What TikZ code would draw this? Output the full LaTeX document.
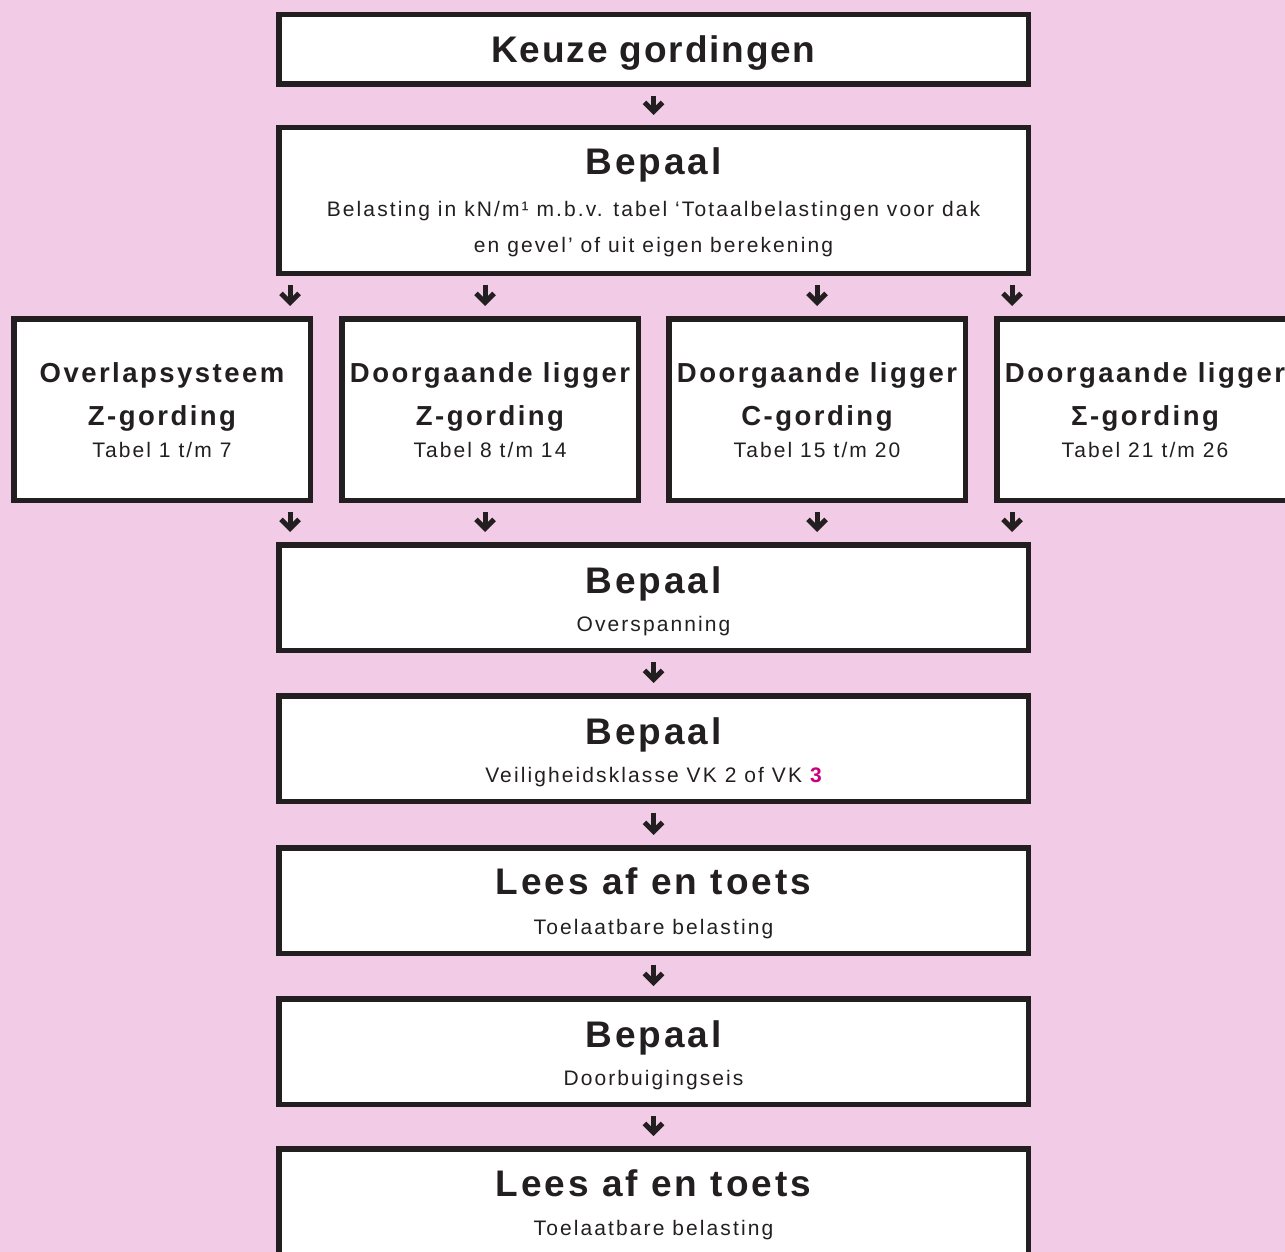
\documentclass[tikz,border=0pt]{standalone}
\usepackage{fontspec}
\setmainfont{Liberation Sans}
\newfontfamily\titelfont[LetterSpace=5]{Liberation Sans}
\newfontfamily\kopfont[LetterSpace=8]{Liberation Sans}
\newfontfamily\subkopfont[LetterSpace=9]{Liberation Sans}
\newfontfamily\tekstfont[LetterSpace=10]{Liberation Sans}
\usetikzlibrary{arrows.meta}
\definecolor{roze}{HTML}{F2CCE6}
\definecolor{inkt}{HTML}{231F20}
\definecolor{magenta3}{HTML}{C8007F}
\tikzset{
  box/.style={draw=inkt, line width=5.5pt, fill=white, inner sep=0pt},
  breed/.style={box, minimum width=749.5pt, minimum height=105.5pt},
  kolom/.style={box, minimum width=296.5pt, minimum height=181.5pt},
  titel/.style={anchor=base, text=inkt, inner sep=0pt, font=\titelfont\bfseries\fontsize{37}{40}\selectfont},
  kop/.style={anchor=base, text=inkt, inner sep=0pt, font=\kopfont\bfseries\fontsize{37}{40}\selectfont},
  subkop/.style={anchor=base, text=inkt, inner sep=0pt, font=\subkopfont\bfseries\fontsize{27.5}{30}\selectfont},
  tekst/.style={anchor=base, text=inkt, inner sep=0pt, font=\tekstfont\fontsize{21}{23}\selectfont},
  pijl/.style={draw=inkt, line width=5pt, -{Straight Barb[length=9pt,width=18pt]}, shorten <=9pt, shorten >=10pt}
}
\begin{document}
\begin{tikzpicture}[x=1pt,y=1pt]
\useasboundingbox (0,0) rectangle (1285,-1252);
\clip (0,0) rectangle (1285,-1252);
\fill[roze] (0,0) rectangle (1285,-1252);
% vakken
\node[box, minimum width=749.5pt, minimum height=69.5pt] (keuze) at (653.5,-49.5) {};
\node[box, minimum width=749.5pt, minimum height=145.5pt] (belasting) at (653.5,-200.5) {};
\node[kolom] (overlap) at (162,-409.5) {};
\node[kolom] (doorZ) at (490,-409.5) {};
\node[kolom] (doorC) at (817,-409.5) {};
\node[kolom] (doorS) at (1145,-409.5) {};
\node[breed] (overspanning) at (653.5,-597.5) {};
\node[breed] (klasse) at (653.5,-748.5) {};
\node[breed] (toets1) at (653.5,-900.5) {};
\node[breed] (doorbuiging) at (653.5,-1051.5) {};
\node[breed] (toets2) at (653.5,-1201.5) {};
% teksten
\node[titel] (t-keuze) at (653.5,-63) {Keuze gordingen};
\node[kop] (t-bepaal1) at (653.5,-175) {Bepaal};
\node[tekst] (t-bel1) at (653.5,-217) {Belasting in kN/m¹ m.b.v. tabel ‘Totaalbelastingen voor dak};
\node[tekst] (t-bel2) at (653.5,-252) {en gevel’ of uit eigen berekening};
\node[subkop] (t-ov1) at (162,-382) {Overlapsysteem};
\node[subkop] (t-ov2) at (162,-425) {Z-gording};
\node[tekst] (t-ov3) at (162,-457) {Tabel 1 t/m 7};
\node[subkop] (t-dz1) at (490,-382) {Doorgaande ligger};
\node[subkop] (t-dz2) at (490,-425) {Z-gording};
\node[tekst] (t-dz3) at (490,-457) {Tabel 8 t/m 14};
\node[subkop] (t-dc1) at (817,-382) {Doorgaande ligger};
\node[subkop] (t-dc2) at (817,-425) {C-gording};
\node[tekst] (t-dc3) at (817,-457) {Tabel 15 t/m 20};
\node[subkop] (t-ds1) at (1145,-382) {Doorgaande ligger};
\node[subkop] (t-ds2) at (1145,-425) {Σ-gording};
\node[tekst] (t-ds3) at (1145,-457) {Tabel 21 t/m 26};
\node[kop] (t-bepaal2) at (653.5,-593) {Bepaal};
\node[tekst] (t-span) at (653.5,-631) {Overspanning};
\node[kop] (t-bepaal3) at (653.5,-744) {Bepaal};
\node[tekst] (t-vk) at (653.5,-782) {Veiligheidsklasse VK 2 of VK {\bfseries\color{magenta3}3}};
\node[kop] (t-lees1) at (653.5,-894) {Lees af en toets};
\node[tekst] (t-toel1) at (653.5,-934) {Toelaatbare belasting};
\node[kop] (t-bepaal4) at (653.5,-1047) {Bepaal};
\node[tekst] (t-doorb) at (653.5,-1085) {Doorbuigingseis};
\node[kop] (t-lees2) at (653.5,-1196) {Lees af en toets};
\node[tekst] (t-toel2) at (653.5,-1235) {Toelaatbare belasting};
% pijlen
\coordinate (k1) at (290,0);
\coordinate (k2) at (485,0);
\coordinate (k3) at (817,0);
\coordinate (k4) at (1012,0);
\draw[pijl] (keuze) -- (belasting);
\foreach \k/\vak in {k1/overlap, k2/doorZ, k3/doorC, k4/doorS} {
  \draw[pijl] (belasting.south -| \k) -- (\vak.north -| \k);
  \draw[pijl] (\vak.south -| \k) -- (overspanning.north -| \k);
}
\draw[pijl] (overspanning) -- (klasse);
\draw[pijl] (klasse) -- (toets1);
\draw[pijl] (toets1) -- (doorbuiging);
\draw[pijl] (doorbuiging) -- (toets2);
\end{tikzpicture}
\end{document}
